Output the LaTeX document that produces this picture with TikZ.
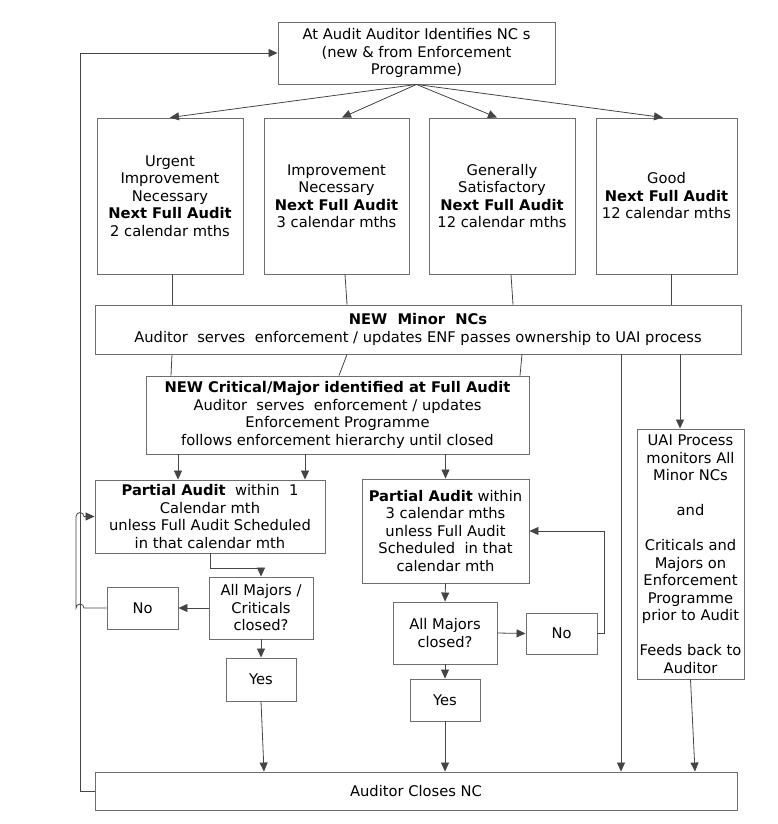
\documentclass[tikz,border=0pt]{standalone}
\usepackage{fontspec}
\setmainfont{DejaVu Sans}
\usetikzlibrary{arrows.meta,calc}
\definecolor{boxgray}{HTML}{6E6E6E}
\definecolor{linegray}{HTML}{454545}
\newcommand\fsz{\fontsize{14.7}{17.5}\selectfont}
\newcommand\B[1]{{\fontsize{14.7}{17.5}\selectfont\bfseries #1}}
\tikzset{
  box/.style={draw=boxgray, line width=0.9pt, inner sep=0pt, align=center, font=\fsz, text=black},
  conn/.style={draw=linegray, line width=0.8pt},
  arr/.style={conn, -{Triangle[length=9pt,width=8pt]}},
}
\begin{document}
\begin{tikzpicture}[x=1pt,y=-1pt]
\useasboundingbox (0,0) rectangle (778,824);
% nodes
\node[box, minimum width=277, minimum height=62] (top) at (416.5,53)
  {At Audit Auditor Identifies NC s\\(new \& from Enforcement\\Programme)};
\node[box, minimum width=146, minimum height=156] (b1) at (170,196)
  {Urgent\\Improvement\\Necessary\\\B{Next Full Audit}\\2 calendar mths};
\node[box, minimum width=145, minimum height=156] (b2) at (336.5,196)
  {Improvement\\Necessary\\\B{Next Full Audit}\\3 calendar mths};
\node[box, minimum width=146, minimum height=156] (b3) at (502,196)
  {Generally\\Satisfactory\\\B{Next Full Audit}\\12 calendar mths};
\node[box, minimum width=141, minimum height=156] (b4) at (666.5,196)
  {Good\\\B{Next Full Audit}\\12 calendar mths};
\node[box, minimum width=646, minimum height=49] (minor) at (418,329.5)
  {\B{NEW\ \ Minor\ \ NCs}\\Auditor\ \ serves\ \ enforcement / updates ENF passes ownership to UAI process};
\node[box, minimum width=383, minimum height=78] (crit) at (337.5,415)
  {\B{NEW Critical/Major identified at Full Audit}\\Auditor\ \ serves\ \ enforcement / updates\\Enforcement Programme\\follows enforcement hierarchy until closed};
\node[box, minimum width=230, minimum height=73] (pa1) at (210,516.5)
  {\B{Partial Audit}\ \ within\ \ 1\\Calendar mth\\unless Full Audit Scheduled\\in that calendar mth};
\node[box, minimum width=167, minimum height=104] (pa3) at (445.5,531)
  {\B{Partial Audit} within\\3 calendar mths\\unless Full Audit\\Scheduled\ \ in that\\calendar mth};
\node[box, minimum width=104, minimum height=62] (d1) at (261,608)
  {All Majors /\\Criticals\\closed?};
\node[box, minimum width=71, minimum height=42] (no1) at (142.5,608) {No};
\node[box, minimum width=70, minimum height=43] (yes1) at (261,679.5) {Yes};
\node[box, minimum width=104, minimum height=62] (d2) at (445,633)
  {All Majors\\closed?};
\node[box, minimum width=71, minimum height=41] (no2) at (561.5,633.5) {No};
\node[box, minimum width=70, minimum height=42] (yes2) at (445,700) {Yes};
\node[box, minimum width=107, minimum height=250] (uai) at (690.5,554)
  {UAI Process\\monitors All\\Minor NCs\\[17.5pt]and\\[17.5pt]Criticals and\\Majors on\\Enforcement\\Programme\\prior to Audit\\[17.5pt]Feeds back to\\Auditor};
\node[box, minimum width=642, minimum height=38] (closes) at (416,791)
  {Auditor Closes NC};
% connectors from top
\draw[arr] (top.south) -- (b1.north);
\draw[arr] (top.south) -- (342,0 |- b2.north);
\draw[arr] (top.south) -- (497,0 |- b3.north);
\draw[arr] (top.south) -- (663,0 |- b4.north);
% boxes to minor
\draw[conn] (172,0 |- b1.south) -- (172,0 |- minor.north);
\draw[conn] (345,0 |- b2.south) -- (347,0 |- minor.north);
\draw[conn] (511,0 |- b3.south) -- (513,0 |- minor.north);
\draw[conn] (671,0 |- b4.south) -- (671,0 |- minor.north);
% minor to crit
\draw[conn] (172,0 |- minor.south) -- (171,0 |- crit.north);
\draw[conn] (347,0 |- minor.south) -- (339,0 |- crit.north);
\draw[conn] (522,0 |- minor.south) -- (520,0 |- crit.north);
% minor to closes and uai
\draw[arr] (621,0 |- minor.south) -- (621,0 |- closes.north);
\draw[arr] (680,0 |- minor.south) -- (680,0 |- uai.north);
% crit to partial audits
\draw[arr] (178,0 |- crit.south) -- (178,0 |- pa1.north);
\draw[arr] (305,0 |- crit.south) -- (305,0 |- pa1.north);
\draw[arr] (445.5,0 |- crit.south) -- (pa3.north);
% left branch
\coordinate (pa1turn) at (210,568);
\draw[arr] (210,0 |- pa1.south) -- (pa1turn) -| (d1.north);
\draw[arr] (d1.west) -- (no1.east);
\draw[arr] (no1.west) -- (84,608) arc[start angle=0, end angle=-180, radius=4]
  -- (76,516.5) arc[start angle=180, end angle=360, radius=4] -- (pa1.west);
\draw[arr] (d1.south) -- (yes1.north);
\draw[arr] (yes1.south) -- (264,0 |- closes.north);
% middle branch
\draw[arr] (pa3.south) -- (d2.north);
\draw[arr] (d2.east) -- (no2.east -| no2.west);
\coordinate (no2turn) at (604,633.5);
\draw[arr] (no2.east) -- (no2turn) |- (pa3.east);
\draw[arr] (d2.south) -- (yes2.north);
\draw[arr] (yes2.south) -- (closes.north -| yes2.south);
% uai to closes
\draw[arr] (uai.south) -- (695,0 |- closes.north);
% feedback loop
\coordinate (loopbot) at (80,791);
\coordinate (looptop) at (80,53);
\draw[arr] (closes.west) -- (loopbot) -- (looptop) -- (top.west);
\end{tikzpicture}
\end{document}
